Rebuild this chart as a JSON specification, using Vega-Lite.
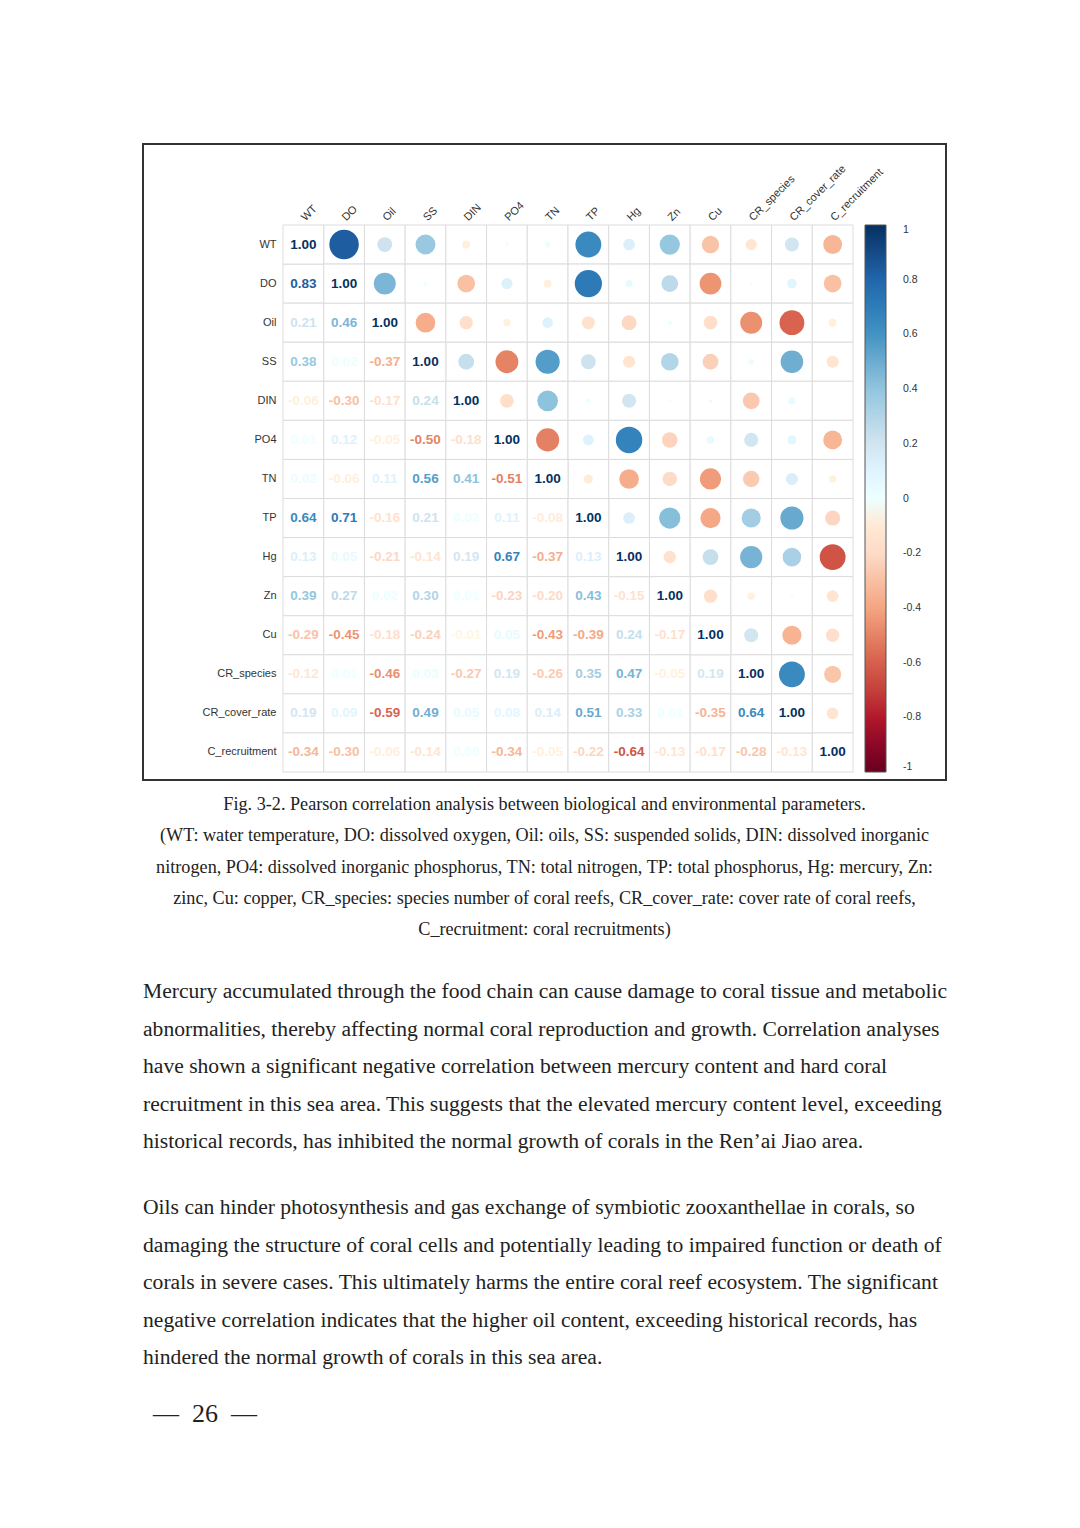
{
  "$schema": "https://vega.github.io/schema/vega-lite/v6.json",
  "background": "white",
  "padding": {"left": 142, "top": 143, "right": 133, "bottom": 82},
  "spacing": 0,
  "config": {
    "view": {"stroke": null},
    "locale": {"number": {"decimal": ".", "thousands": ",", "grouping": [3], "currency": ["$", ""], "minus": "-"}}
  },
  "datasets": {
    "pairs": [
      {"a": "DO", "b": "WT", "r": 0.83},
      {"a": "Oil", "b": "WT", "r": 0.21}, {"a": "Oil", "b": "DO", "r": 0.46},
      {"a": "SS", "b": "WT", "r": 0.38}, {"a": "SS", "b": "DO", "r": 0.02}, {"a": "SS", "b": "Oil", "r": -0.37},
      {"a": "DIN", "b": "WT", "r": -0.06}, {"a": "DIN", "b": "DO", "r": -0.30}, {"a": "DIN", "b": "Oil", "r": -0.17}, {"a": "DIN", "b": "SS", "r": 0.24},
      {"a": "PO4", "b": "WT", "r": 0.01}, {"a": "PO4", "b": "DO", "r": 0.12}, {"a": "PO4", "b": "Oil", "r": -0.05}, {"a": "PO4", "b": "SS", "r": -0.50}, {"a": "PO4", "b": "DIN", "r": -0.18},
      {"a": "TN", "b": "WT", "r": 0.03}, {"a": "TN", "b": "DO", "r": -0.06}, {"a": "TN", "b": "Oil", "r": 0.11}, {"a": "TN", "b": "SS", "r": 0.56}, {"a": "TN", "b": "DIN", "r": 0.41}, {"a": "TN", "b": "PO4", "r": -0.51},
      {"a": "TP", "b": "WT", "r": 0.64}, {"a": "TP", "b": "DO", "r": 0.71}, {"a": "TP", "b": "Oil", "r": -0.16}, {"a": "TP", "b": "SS", "r": 0.21}, {"a": "TP", "b": "DIN", "r": 0.02}, {"a": "TP", "b": "PO4", "r": 0.11}, {"a": "TP", "b": "TN", "r": -0.08},
      {"a": "Hg", "b": "WT", "r": 0.13}, {"a": "Hg", "b": "DO", "r": 0.05}, {"a": "Hg", "b": "Oil", "r": -0.21}, {"a": "Hg", "b": "SS", "r": -0.14}, {"a": "Hg", "b": "DIN", "r": 0.19}, {"a": "Hg", "b": "PO4", "r": 0.67}, {"a": "Hg", "b": "TN", "r": -0.37}, {"a": "Hg", "b": "TP", "r": 0.13},
      {"a": "Zn", "b": "WT", "r": 0.39}, {"a": "Zn", "b": "DO", "r": 0.27}, {"a": "Zn", "b": "Oil", "r": 0.02}, {"a": "Zn", "b": "SS", "r": 0.30}, {"a": "Zn", "b": "DIN", "r": 0.01}, {"a": "Zn", "b": "PO4", "r": -0.23}, {"a": "Zn", "b": "TN", "r": -0.20}, {"a": "Zn", "b": "TP", "r": 0.43}, {"a": "Zn", "b": "Hg", "r": -0.15},
      {"a": "Cu", "b": "WT", "r": -0.29}, {"a": "Cu", "b": "DO", "r": -0.45}, {"a": "Cu", "b": "Oil", "r": -0.18}, {"a": "Cu", "b": "SS", "r": -0.24}, {"a": "Cu", "b": "DIN", "r": -0.01}, {"a": "Cu", "b": "PO4", "r": 0.05}, {"a": "Cu", "b": "TN", "r": -0.43}, {"a": "Cu", "b": "TP", "r": -0.39}, {"a": "Cu", "b": "Hg", "r": 0.24}, {"a": "Cu", "b": "Zn", "r": -0.17},
      {"a": "CR_species", "b": "WT", "r": -0.12}, {"a": "CR_species", "b": "DO", "r": 0.01}, {"a": "CR_species", "b": "Oil", "r": -0.46}, {"a": "CR_species", "b": "SS", "r": 0.03}, {"a": "CR_species", "b": "DIN", "r": -0.27}, {"a": "CR_species", "b": "PO4", "r": 0.19}, {"a": "CR_species", "b": "TN", "r": -0.26}, {"a": "CR_species", "b": "TP", "r": 0.35}, {"a": "CR_species", "b": "Hg", "r": 0.47}, {"a": "CR_species", "b": "Zn", "r": -0.05}, {"a": "CR_species", "b": "Cu", "r": 0.19},
      {"a": "CR_cover_rate", "b": "WT", "r": 0.19}, {"a": "CR_cover_rate", "b": "DO", "r": 0.09}, {"a": "CR_cover_rate", "b": "Oil", "r": -0.59}, {"a": "CR_cover_rate", "b": "SS", "r": 0.49}, {"a": "CR_cover_rate", "b": "DIN", "r": 0.05}, {"a": "CR_cover_rate", "b": "PO4", "r": 0.08}, {"a": "CR_cover_rate", "b": "TN", "r": 0.14}, {"a": "CR_cover_rate", "b": "TP", "r": 0.51}, {"a": "CR_cover_rate", "b": "Hg", "r": 0.33}, {"a": "CR_cover_rate", "b": "Zn", "r": 0.01}, {"a": "CR_cover_rate", "b": "Cu", "r": -0.35}, {"a": "CR_cover_rate", "b": "CR_species", "r": 0.64},
      {"a": "C_recruitment", "b": "WT", "r": -0.34}, {"a": "C_recruitment", "b": "DO", "r": -0.30}, {"a": "C_recruitment", "b": "Oil", "r": -0.06}, {"a": "C_recruitment", "b": "SS", "r": -0.14}, {"a": "C_recruitment", "b": "DIN", "r": 0.00}, {"a": "C_recruitment", "b": "PO4", "r": -0.34}, {"a": "C_recruitment", "b": "TN", "r": -0.05}, {"a": "C_recruitment", "b": "TP", "r": -0.22}, {"a": "C_recruitment", "b": "Hg", "r": -0.64}, {"a": "C_recruitment", "b": "Zn", "r": -0.13}, {"a": "C_recruitment", "b": "Cu", "r": -0.17}, {"a": "C_recruitment", "b": "CR_species", "r": -0.28}, {"a": "C_recruitment", "b": "CR_cover_rate", "r": -0.13}
    ],
    "diag": [
      {"v": "WT", "r": 1}, {"v": "DO", "r": 1}, {"v": "Oil", "r": 1}, {"v": "SS", "r": 1}, {"v": "DIN", "r": 1}, {"v": "PO4", "r": 1}, {"v": "TN", "r": 1},
      {"v": "TP", "r": 1}, {"v": "Hg", "r": 1}, {"v": "Zn", "r": 1}, {"v": "Cu", "r": 1}, {"v": "CR_species", "r": 1}, {"v": "CR_cover_rate", "r": 1}, {"v": "C_recruitment", "r": 1}
    ]
  },
  "vconcat": [
    {
      "width": 803,
      "height": 636,
      "view": {"stroke": "#333333", "strokeWidth": 2},
      "layer": [
        {
          "data": {"name": "pairs"},
          "mark": {"type": "rect", "fill": "white", "stroke": "#dcdcdc", "strokeWidth": 1},
          "encoding": {
            "x": {"field": "b", "type": "nominal", "scale": {"type": "band", "domain": ["WT","DO","Oil","SS","DIN","PO4","TN","TP","Hg","Zn","Cu","CR_species","CR_cover_rate","C_recruitment"], "range": [140, 710], "paddingInner": 0, "paddingOuter": 0},
              "axis": {"orient": "top", "offset": -81, "title": null, "domain": false, "ticks": false, "grid": false, "labelAngle": -45, "labelAlign": "left", "labelBaseline": "middle", "labelPadding": 6, "labelFontSize": 11, "labelFont": "Liberation Sans", "labelColor": "#333"}},
            "y": {"field": "a", "type": "nominal", "scale": {"type": "band", "domain": ["WT","DO","Oil","SS","DIN","PO4","TN","TP","Hg","Zn","Cu","CR_species","CR_cover_rate","C_recruitment"], "range": [81, 628], "paddingInner": 0, "paddingOuter": 0},
              "axis": {"orient": "left", "offset": -140, "title": null, "domain": false, "ticks": false, "grid": false, "labelPadding": 7, "labelFontSize": 11, "labelFont": "Liberation Sans", "labelColor": "#333"}}
          }
        },
        {
          "data": {"name": "pairs"},
          "mark": {"type": "rect", "fill": "white", "stroke": "#dcdcdc", "strokeWidth": 1},
          "encoding": {
            "x": {"field": "a", "type": "nominal", "scale": {"type": "band", "domain": ["WT","DO","Oil","SS","DIN","PO4","TN","TP","Hg","Zn","Cu","CR_species","CR_cover_rate","C_recruitment"], "range": [140, 710], "paddingInner": 0, "paddingOuter": 0},
              "axis": {"orient": "top", "offset": -81, "title": null, "domain": false, "ticks": false, "grid": false, "labelAngle": -45, "labelAlign": "left", "labelBaseline": "middle", "labelPadding": 6, "labelFontSize": 11, "labelFont": "Liberation Sans", "labelColor": "#333"}},
            "y": {"field": "b", "type": "nominal", "scale": {"type": "band", "domain": ["WT","DO","Oil","SS","DIN","PO4","TN","TP","Hg","Zn","Cu","CR_species","CR_cover_rate","C_recruitment"], "range": [81, 628], "paddingInner": 0, "paddingOuter": 0},
              "axis": {"orient": "left", "offset": -140, "title": null, "domain": false, "ticks": false, "grid": false, "labelPadding": 7, "labelFontSize": 11, "labelFont": "Liberation Sans", "labelColor": "#333"}}
          }
        },
        {
          "data": {"name": "diag"},
          "mark": {"type": "rect", "fill": "white", "stroke": "#dcdcdc", "strokeWidth": 1},
          "encoding": {
            "x": {"field": "v", "type": "nominal", "scale": {"type": "band", "domain": ["WT","DO","Oil","SS","DIN","PO4","TN","TP","Hg","Zn","Cu","CR_species","CR_cover_rate","C_recruitment"], "range": [140, 710], "paddingInner": 0, "paddingOuter": 0},
              "axis": {"orient": "top", "offset": -81, "title": null, "domain": false, "ticks": false, "grid": false, "labelAngle": -45, "labelAlign": "left", "labelBaseline": "middle", "labelPadding": 6, "labelFontSize": 11, "labelFont": "Liberation Sans", "labelColor": "#333"}},
            "y": {"field": "v", "type": "nominal", "scale": {"type": "band", "domain": ["WT","DO","Oil","SS","DIN","PO4","TN","TP","Hg","Zn","Cu","CR_species","CR_cover_rate","C_recruitment"], "range": [81, 628], "paddingInner": 0, "paddingOuter": 0},
              "axis": {"orient": "left", "offset": -140, "title": null, "domain": false, "ticks": false, "grid": false, "labelPadding": 7, "labelFontSize": 11, "labelFont": "Liberation Sans", "labelColor": "#333"}}
          }
        },
        {
          "data": {"name": "pairs"},
          "mark": {"type": "circle", "opacity": 1, "strokeWidth": 0},
          "encoding": {
            "x": {"field": "a", "type": "nominal", "scale": {"type": "band", "domain": ["WT","DO","Oil","SS","DIN","PO4","TN","TP","Hg","Zn","Cu","CR_species","CR_cover_rate","C_recruitment"], "range": [140, 710], "paddingInner": 0, "paddingOuter": 0},
              "axis": {"orient": "top", "offset": -81, "title": null, "domain": false, "ticks": false, "grid": false, "labelAngle": -45, "labelAlign": "left", "labelBaseline": "middle", "labelPadding": 6, "labelFontSize": 11, "labelFont": "Liberation Sans", "labelColor": "#333"}},
            "y": {"field": "b", "type": "nominal", "scale": {"type": "band", "domain": ["WT","DO","Oil","SS","DIN","PO4","TN","TP","Hg","Zn","Cu","CR_species","CR_cover_rate","C_recruitment"], "range": [81, 628], "paddingInner": 0, "paddingOuter": 0},
              "axis": {"orient": "left", "offset": -140, "title": null, "domain": false, "ticks": false, "grid": false, "labelPadding": 7, "labelFontSize": 11, "labelFont": "Liberation Sans", "labelColor": "#333"}},
            "size": {"field": "r", "type": "quantitative", "scale": {"type": "linear", "domain": [-1, 0, 1], "range": [1046, 0, 1046]}, "legend": null},
            "color": {"field": "r", "type": "quantitative",
              "scale": {"type": "linear", "domain": [-1, -0.8, -0.6, -0.4, -0.2, 0, 0.2, 0.4, 0.6, 0.8, 1], "range": ["#67001F", "#B2182B", "#D6604D", "#F4A582", "#FDDBC7", "#FFFFFF", "#D1E5F0", "#92C5DE", "#4393C3", "#2166AC", "#053061"]},
              "legend": {"orient": "none", "legendX": 722, "legendY": 81, "direction": "vertical", "gradientLength": 547, "gradientThickness": 21, "title": null, "values": [-1, -0.8, -0.6, -0.4, -0.2, 0, 0.2, 0.4, 0.6, 0.8, 1], "format": "~g", "labelOffset": 17, "labelBaseline": "middle", "labelFontSize": 10.5, "labelFont": "Liberation Sans", "labelColor": "#333", "gradientStrokeColor": "#555", "gradientStrokeWidth": 1, "labelOverlap": false, "padding": 0}}
          }
        },
        {
          "data": {"name": "pairs"},
          "mark": {"type": "text", "align": "center", "baseline": "middle", "font": "Liberation Sans", "fontSize": 13.5, "fontWeight": "bold"},
          "encoding": {
            "x": {"field": "b", "type": "nominal", "scale": {"type": "band", "domain": ["WT","DO","Oil","SS","DIN","PO4","TN","TP","Hg","Zn","Cu","CR_species","CR_cover_rate","C_recruitment"], "range": [140, 710], "paddingInner": 0, "paddingOuter": 0},
              "axis": {"orient": "top", "offset": -81, "title": null, "domain": false, "ticks": false, "grid": false, "labelAngle": -45, "labelAlign": "left", "labelBaseline": "middle", "labelPadding": 6, "labelFontSize": 11, "labelFont": "Liberation Sans", "labelColor": "#333"}},
            "y": {"field": "a", "type": "nominal", "scale": {"type": "band", "domain": ["WT","DO","Oil","SS","DIN","PO4","TN","TP","Hg","Zn","Cu","CR_species","CR_cover_rate","C_recruitment"], "range": [81, 628], "paddingInner": 0, "paddingOuter": 0},
              "axis": {"orient": "left", "offset": -140, "title": null, "domain": false, "ticks": false, "grid": false, "labelPadding": 7, "labelFontSize": 11, "labelFont": "Liberation Sans", "labelColor": "#333"}},
            "text": {"field": "r", "type": "quantitative", "format": ".2f"},
            "color": {"field": "r", "type": "quantitative",
              "scale": {"type": "linear", "domain": [-1, -0.8, -0.6, -0.4, -0.2, 0, 0.2, 0.4, 0.6, 0.8, 1], "range": ["#67001F", "#B2182B", "#D6604D", "#F4A582", "#FDDBC7", "#FFFFFF", "#D1E5F0", "#92C5DE", "#4393C3", "#2166AC", "#053061"]},
              "legend": {"orient": "none", "legendX": 722, "legendY": 81, "direction": "vertical", "gradientLength": 547, "gradientThickness": 21, "title": null, "values": [-1, -0.8, -0.6, -0.4, -0.2, 0, 0.2, 0.4, 0.6, 0.8, 1], "format": "~g", "labelOffset": 17, "labelBaseline": "middle", "labelFontSize": 10.5, "labelFont": "Liberation Sans", "labelColor": "#333", "gradientStrokeColor": "#555", "gradientStrokeWidth": 1, "labelOverlap": false, "padding": 0}}
          }
        },
        {
          "data": {"name": "diag"},
          "mark": {"type": "text", "align": "center", "baseline": "middle", "font": "Liberation Sans", "fontSize": 13.5, "fontWeight": "bold"},
          "encoding": {
            "x": {"field": "v", "type": "nominal", "scale": {"type": "band", "domain": ["WT","DO","Oil","SS","DIN","PO4","TN","TP","Hg","Zn","Cu","CR_species","CR_cover_rate","C_recruitment"], "range": [140, 710], "paddingInner": 0, "paddingOuter": 0},
              "axis": {"orient": "top", "offset": -81, "title": null, "domain": false, "ticks": false, "grid": false, "labelAngle": -45, "labelAlign": "left", "labelBaseline": "middle", "labelPadding": 6, "labelFontSize": 11, "labelFont": "Liberation Sans", "labelColor": "#333"}},
            "y": {"field": "v", "type": "nominal", "scale": {"type": "band", "domain": ["WT","DO","Oil","SS","DIN","PO4","TN","TP","Hg","Zn","Cu","CR_species","CR_cover_rate","C_recruitment"], "range": [81, 628], "paddingInner": 0, "paddingOuter": 0},
              "axis": {"orient": "left", "offset": -140, "title": null, "domain": false, "ticks": false, "grid": false, "labelPadding": 7, "labelFontSize": 11, "labelFont": "Liberation Sans", "labelColor": "#333"}},
            "text": {"field": "r", "type": "quantitative", "format": ".2f"},
            "color": {"field": "r", "type": "quantitative",
              "scale": {"type": "linear", "domain": [-1, -0.8, -0.6, -0.4, -0.2, 0, 0.2, 0.4, 0.6, 0.8, 1], "range": ["#67001F", "#B2182B", "#D6604D", "#F4A582", "#FDDBC7", "#FFFFFF", "#D1E5F0", "#92C5DE", "#4393C3", "#2166AC", "#053061"]},
              "legend": {"orient": "none", "legendX": 722, "legendY": 81, "direction": "vertical", "gradientLength": 547, "gradientThickness": 21, "title": null, "values": [-1, -0.8, -0.6, -0.4, -0.2, 0, 0.2, 0.4, 0.6, 0.8, 1], "format": "~g", "labelOffset": 17, "labelBaseline": "middle", "labelFontSize": 10.5, "labelFont": "Liberation Sans", "labelColor": "#333", "gradientStrokeColor": "#555", "gradientStrokeWidth": 1, "labelOverlap": false, "padding": 0}}
          }
        }
      ]
    },
    {
      "width": 803,
      "height": 180,
      "data": {"values": [
        {"line": 1, "text": "Fig. 3-2. Pearson correlation analysis between biological and environmental parameters."},
        {"line": 2, "text": "(WT: water temperature, DO: dissolved oxygen, Oil: oils, SS: suspended solids, DIN: dissolved inorganic"},
        {"line": 3, "text": "nitrogen, PO4: dissolved inorganic phosphorus, TN: total nitrogen, TP: total phosphorus, Hg: mercury, Zn:"},
        {"line": 4, "text": "zinc, Cu: copper, CR_species: species number of coral reefs, CR_cover_rate: cover rate of coral reefs,"},
        {"line": 5, "text": "C_recruitment: coral recruitments)"}
      ]},
      "mark": {"type": "text", "align": "center", "baseline": "middle", "font": "Liberation Serif", "fontSize": 18.2, "color": "#222", "x": {"expr": "width / 2"}},
      "encoding": {
        "y": {"field": "line", "type": "ordinal", "scale": {"type": "point", "range": [24, 149], "padding": 0}, "axis": null},
        "text": {"field": "text", "type": "nominal"}
      }
    },
    {
      "width": 803,
      "height": 215,
      "data": {"values": [
        {"line": 1, "text": "Mercury accumulated through the food chain can cause damage to coral tissue and metabolic"},
        {"line": 2, "text": "abnormalities, thereby affecting normal coral reproduction and growth. Correlation analyses"},
        {"line": 3, "text": "have shown a significant negative correlation between mercury content and hard coral"},
        {"line": 4, "text": "recruitment in this sea area. This suggests that the elevated mercury content level, exceeding"},
        {"line": 5, "text": "historical records, has inhibited the normal growth of corals in the Ren’ai Jiao area."}
      ]},
      "mark": {"type": "text", "align": "left", "baseline": "middle", "font": "Liberation Serif", "fontSize": 21.6, "color": "#222", "x": 0},
      "encoding": {
        "y": {"field": "line", "type": "ordinal", "scale": {"type": "point", "range": [31, 181], "padding": 0}, "axis": null},
        "text": {"field": "text", "type": "nominal"}
      }
    },
    {
      "width": 803,
      "height": 210,
      "data": {"values": [
        {"line": 1, "text": "Oils can hinder photosynthesis and gas exchange of symbiotic zooxanthellae in corals, so"},
        {"line": 2, "text": "damaging the structure of coral cells and potentially leading to impaired function or death of"},
        {"line": 3, "text": "corals in severe cases. This ultimately harms the entire coral reef ecosystem. The significant"},
        {"line": 4, "text": "negative correlation indicates that the higher oil content, exceeding historical records, has"},
        {"line": 5, "text": "hindered the normal growth of corals in this sea area."}
      ]},
      "mark": {"type": "text", "align": "left", "baseline": "middle", "font": "Liberation Serif", "fontSize": 21.6, "color": "#222", "x": 0},
      "encoding": {
        "y": {"field": "line", "type": "ordinal", "scale": {"type": "point", "range": [32, 182], "padding": 0}, "axis": null},
        "text": {"field": "text", "type": "nominal"}
      }
    },
    {
      "width": 803,
      "height": 60,
      "data": {"values": [{"text": "— \u00a026\u00a0 —"}]},
      "mark": {"type": "text", "align": "left", "baseline": "middle", "font": "Liberation Serif", "fontSize": 26, "color": "#222", "x": 10, "y": 28},
      "encoding": {
        "text": {"field": "text", "type": "nominal"}
      }
    }
  ]
}
